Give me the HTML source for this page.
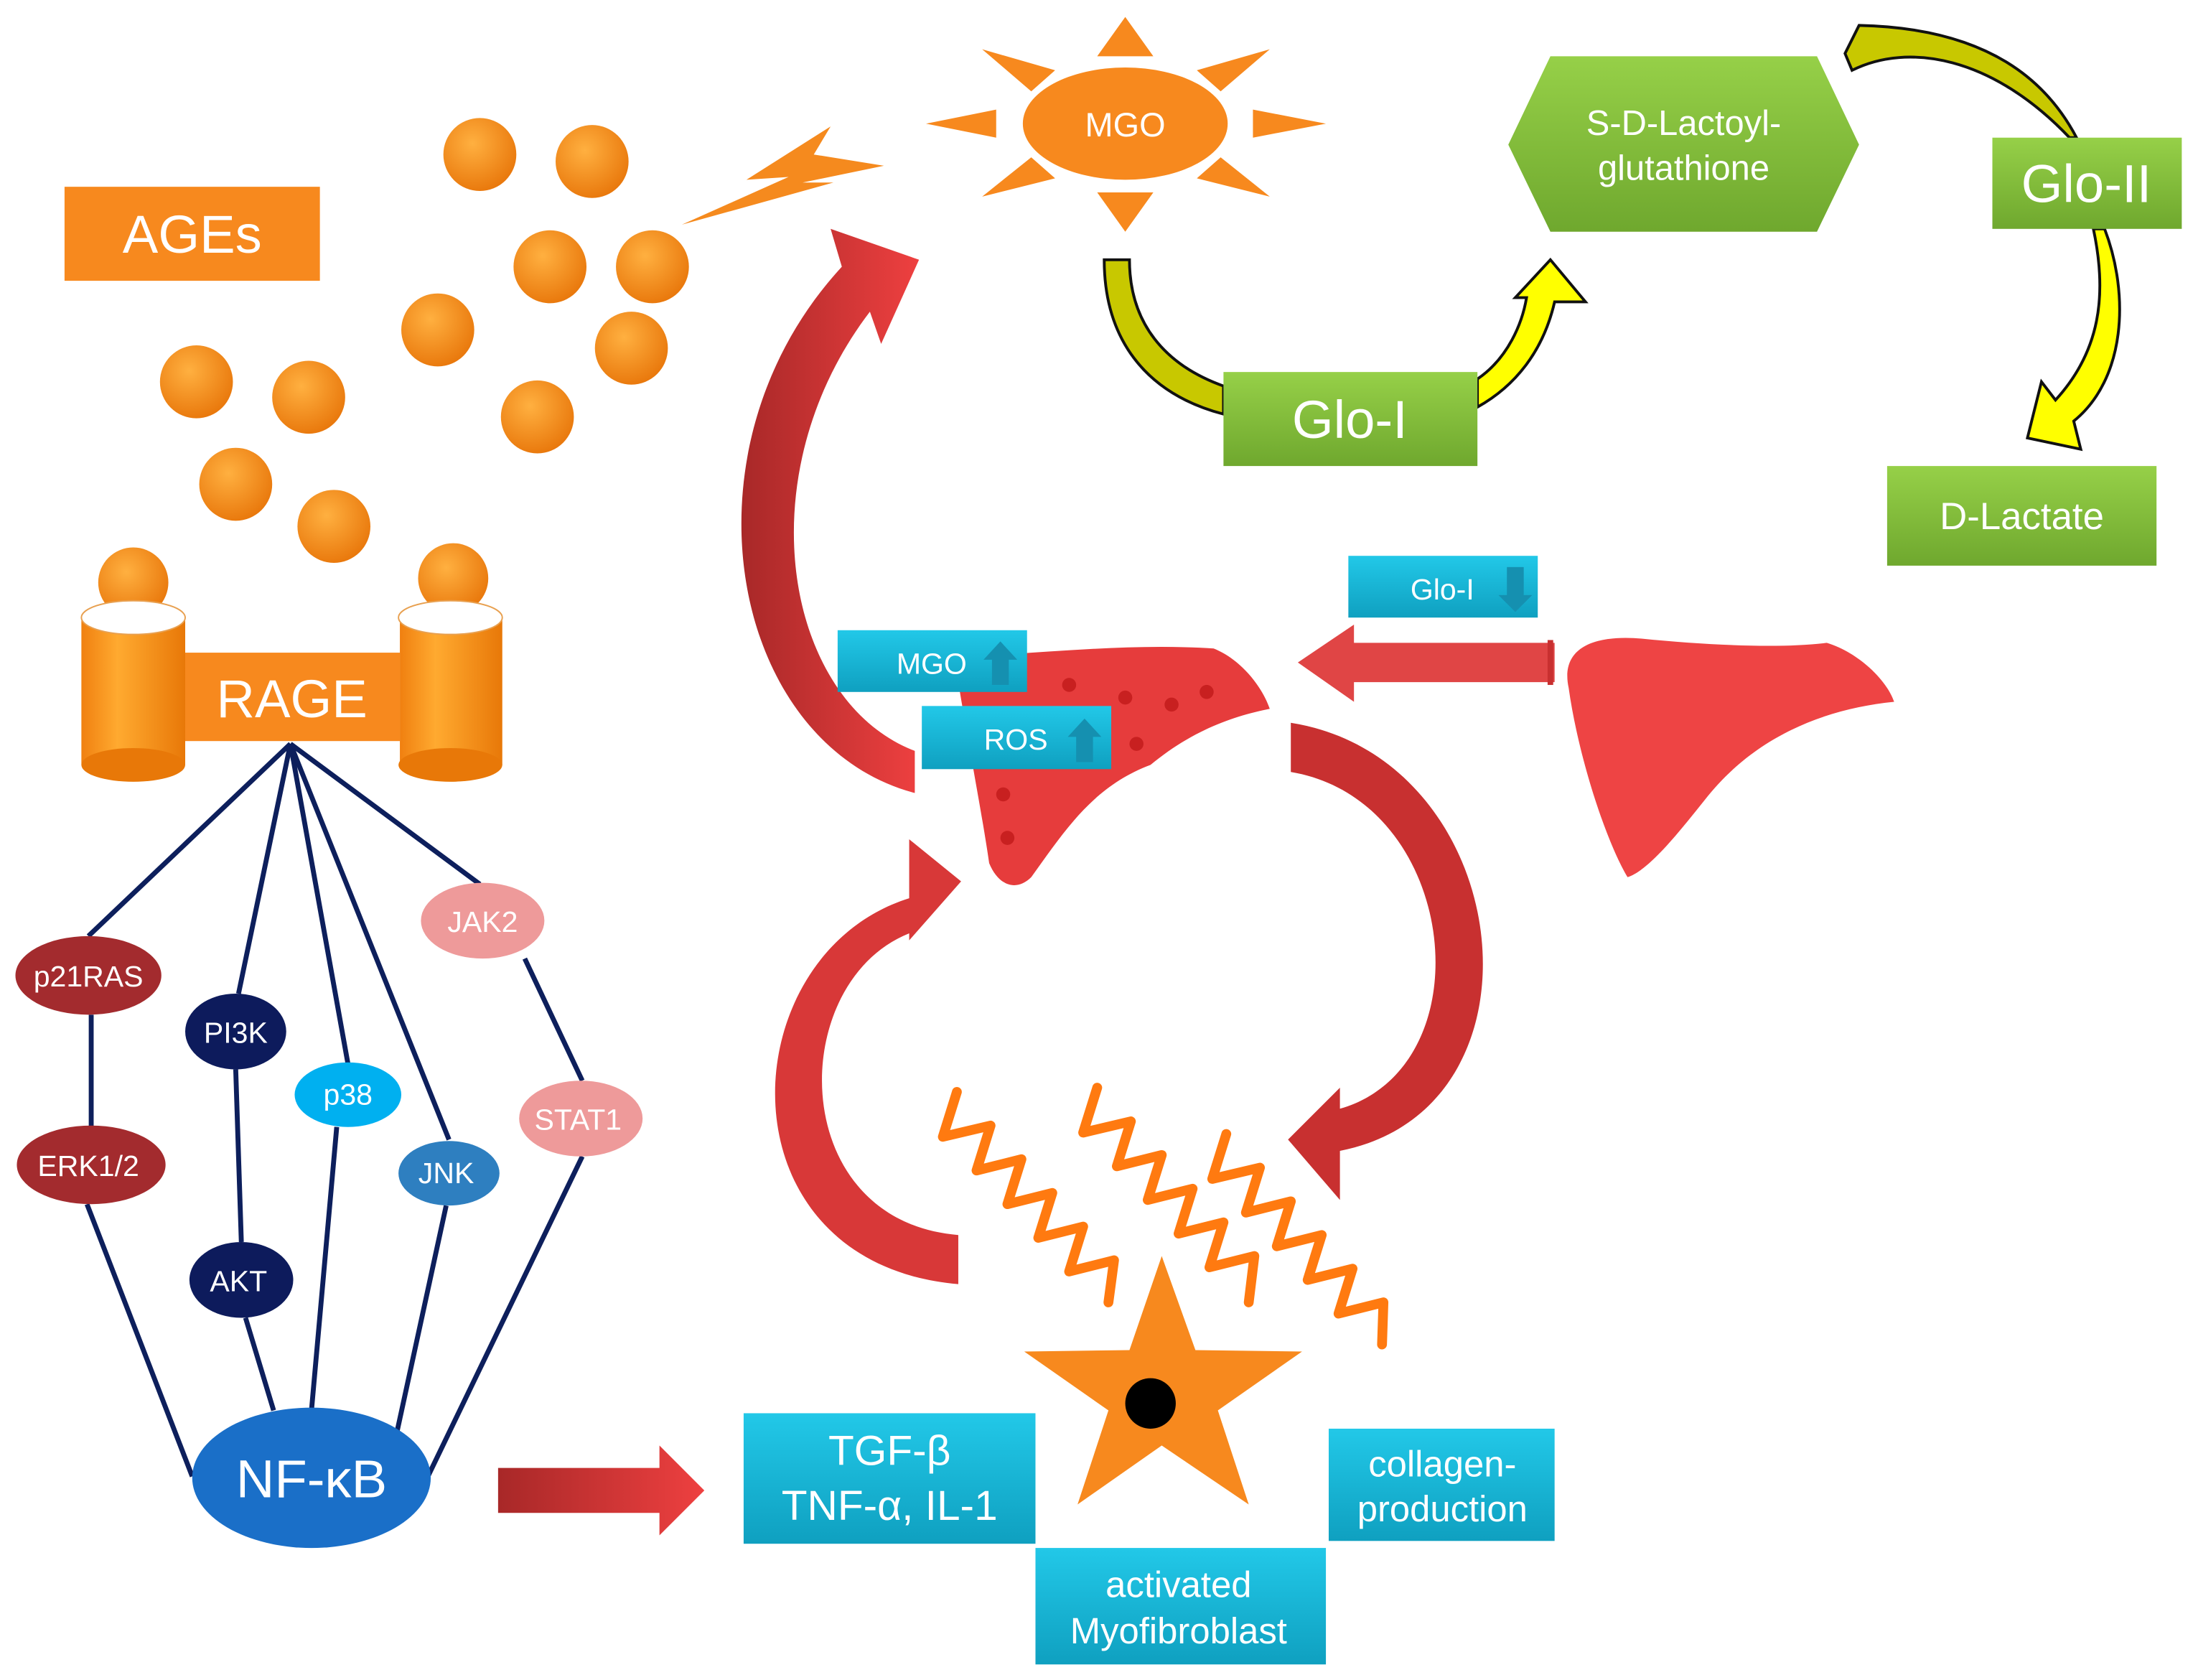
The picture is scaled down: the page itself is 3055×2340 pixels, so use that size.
<!DOCTYPE html>
<html><head><meta charset="utf-8"><style>html,body{margin:0;padding:0;background:#fff}svg{display:block}text{font-family:"Liberation Sans",sans-serif;fill:#fff}</style></head>
<body>
<svg width="3055" height="2340" viewBox="0 0 1563 1197" xmlns="http://www.w3.org/2000/svg">
<defs>
<radialGradient id="ball" cx="0.4" cy="0.35" r="0.7"><stop offset="0" stop-color="#FFB040"/><stop offset="1" stop-color="#E8760A"/></radialGradient>
<linearGradient id="cyl" x1="0" x2="1"><stop offset="0" stop-color="#F08010"/><stop offset="0.35" stop-color="#FFAA30"/><stop offset="1" stop-color="#E87808"/></linearGradient>
<linearGradient id="grn" x1="0" y1="0" x2="0" y2="1"><stop offset="0" stop-color="#96D048"/><stop offset="1" stop-color="#6FA82E"/></linearGradient>
<linearGradient id="cy" x1="0" y1="0" x2="0" y2="1"><stop offset="0" stop-color="#22C8E8"/><stop offset="1" stop-color="#0FA0C0"/></linearGradient>
<linearGradient id="red" x1="0" x2="1"><stop offset="0" stop-color="#A82828"/><stop offset="1" stop-color="#EE4040"/></linearGradient>
</defs>

<rect x="46" y="133" width="182" height="67" fill="#F7891E"/>
<text x="137" y="180" font-size="38" text-anchor="middle">AGEs</text>

<g fill="url(#ball)">
<circle cx="342" cy="110" r="26"/><circle cx="422" cy="115" r="26"/><circle cx="392" cy="190" r="26"/><circle cx="465" cy="190" r="26"/>
<circle cx="312" cy="235" r="26"/><circle cx="450" cy="248" r="26"/><circle cx="140" cy="272" r="26"/><circle cx="220" cy="283" r="26"/>
<circle cx="383" cy="297" r="26"/><circle cx="168" cy="345" r="26"/><circle cx="238" cy="375" r="26"/><circle cx="95" cy="415" r="25"/><circle cx="323" cy="412" r="25"/>
</g>

<polygon points="486,160 562,126 532,128 592,90 580,110 630,118 572,130 594,130" fill="#F58A1E"/>

<rect x="58" y="440" width="74" height="105" fill="url(#cyl)"/>
<ellipse cx="95" cy="545" rx="37" ry="12" fill="#E87808"/>
<ellipse cx="95" cy="440" rx="37" ry="12" fill="#fff" stroke="#E8A050" stroke-width="1"/>
<rect x="285" y="440" width="73" height="105" fill="url(#cyl)"/>
<ellipse cx="321" cy="545" rx="37" ry="12" fill="#E87808"/>
<ellipse cx="321" cy="440" rx="37" ry="12" fill="#fff" stroke="#E8A050" stroke-width="1"/>
<rect x="132" y="465" width="153" height="63" fill="#F7891E"/>
<text x="208" y="511" font-size="38" text-anchor="middle">RAGE</text>

<g stroke="#0D1F5C" stroke-width="3.5" fill="none">
<line x1="207" y1="530" x2="63" y2="667"/><line x1="207" y1="530" x2="170" y2="708"/>
<line x1="207" y1="530" x2="248" y2="758"/><line x1="207" y1="530" x2="320" y2="812"/>
<line x1="207" y1="530" x2="342" y2="630"/>
<line x1="65" y1="723" x2="65" y2="803"/><line x1="168" y1="762" x2="172" y2="885"/>
<line x1="62" y1="858" x2="137" y2="1052"/><line x1="175" y1="939" x2="195" y2="1005"/>
<line x1="240" y1="803" x2="222" y2="1005"/><line x1="318" y1="859" x2="283" y2="1020"/>
<line x1="374" y1="683" x2="415" y2="770"/><line x1="415" y1="824" x2="305" y2="1052"/>
</g>
<ellipse cx="63" cy="695" rx="52" ry="28" fill="#A32B2E"/><text x="63" y="703" font-size="21" text-anchor="middle">p21RAS</text>
<ellipse cx="65" cy="830" rx="53" ry="28" fill="#A32B2E"/><text x="63" y="838" font-size="21" text-anchor="middle">ERK1/2</text>
<ellipse cx="168" cy="735" rx="36" ry="27" fill="#0D1B5C"/><text x="168" y="743" font-size="21" text-anchor="middle">PI3K</text>
<ellipse cx="172" cy="912" rx="37" ry="27" fill="#0D1B5C"/><text x="170" y="920" font-size="21" text-anchor="middle">AKT</text>
<ellipse cx="248" cy="780" rx="38" ry="23" fill="#00B0F0"/><text x="248" y="787" font-size="21" text-anchor="middle">p38</text>
<ellipse cx="320" cy="836" rx="36" ry="23" fill="#2E7FC0"/><text x="318" y="843" font-size="21" text-anchor="middle">JNK</text>
<ellipse cx="344" cy="656" rx="44" ry="27" fill="#EE9A9A"/><text x="344" y="664" font-size="21" text-anchor="middle">JAK2</text>
<ellipse cx="414" cy="797" rx="44" ry="27" fill="#EE9A9A"/><text x="412" y="805" font-size="21" text-anchor="middle">STAT1</text>
<ellipse cx="222" cy="1053" rx="85" ry="50" fill="#1A6FC8"/><text x="222" y="1067" font-size="38" text-anchor="middle">NF-κB</text>

<polygon points="355,1046 470,1046 470,1030 502,1062 470,1094 470,1078 355,1078" fill="url(#red)"/>

<!-- red big curved arrows -->
<path d="M652,565 C520,530 480,320 600,190 L592,163 L655,185 L628,245 L620,222 C530,340 560,500 652,535 Z" fill="url(#red)"/>
<path d="M920,515 C1080,540 1110,790 955,820 L955,855 L918,812 L955,775 L955,790 C1060,760 1040,570 920,550 Z" fill="#C83030"/>
<path d="M648,640 C520,680 510,900 683,915 L683,880 C560,870 560,700 648,665 L648,670 L685,628 L648,598 Z" fill="#D83838"/>

<!-- liver 1 -->
<path d="M680,468 C740,466 800,458 865,462 C885,470 900,490 905,505 C880,510 850,520 820,545 C780,560 760,590 735,625 C725,635 712,632 705,615 C700,580 690,530 680,468 Z" fill="#E63C3C"/>
<g fill="#C82020"><circle cx="762" cy="488" r="5"/><circle cx="802" cy="497" r="5"/><circle cx="835" cy="502" r="5"/><circle cx="860" cy="493" r="5"/><circle cx="810" cy="530" r="5"/><circle cx="715" cy="566" r="5"/><circle cx="718" cy="597" r="5"/></g>
<!-- liver 2 -->
<path d="M1118,490 C1112,462 1135,452 1170,455 C1220,460 1270,462 1302,458 C1325,465 1345,485 1350,500 C1300,505 1250,525 1215,570 C1195,595 1175,620 1160,625 C1145,600 1125,540 1118,490 Z" fill="#EE4444"/>
<polygon points="1108,458 965,458 965,445 925,472 965,500 965,486 1108,486" fill="#E04545"/>
<rect x="1103" y="456" width="4" height="32" fill="#C83030"/>

<rect x="961" y="396" width="135" height="44" fill="url(#cy)"/><text x="1028" y="427" font-size="21" text-anchor="middle">Glo-I</text>
<polygon points="1074,404 1086,404 1086,424 1092,424 1080,436 1068,424 1074,424" fill="#1590B0"/>
<rect x="597" y="449" width="135" height="44" fill="url(#cy)"/><text x="664" y="480" font-size="21" text-anchor="middle">MGO</text>
<polygon points="707,488 719,488 719,470 725,470 713,457 701,470 707,470" fill="#1590B0"/>
<rect x="657" y="503" width="135" height="45" fill="url(#cy)"/><text x="724" y="534" font-size="21" text-anchor="middle">ROS</text>
<polygon points="767,543 779,543 779,525 785,525 773,512 761,525 767,525" fill="#1590B0"/>

<g stroke="#FF7A10" stroke-width="7" fill="none" stroke-linejoin="round" stroke-linecap="round">
<polyline points="682,778 672,810 706,802 696,834 728,826 718,858 750,850 740,882 772,874 762,906 794,898 790,928"/>
<polyline points="782,775 772,807 806,799 796,831 828,823 818,855 850,847 840,879 872,871 862,903 894,895 890,928"/>
<polyline points="874,808 864,840 898,832 888,864 920,856 910,888 942,880 932,912 964,904 954,936 986,928 985,958"/>
</g>

<polygon points="828,895 852,962 928,963 868,1005 890,1072 828,1030 768,1072 790,1005 730,963 805,962" fill="#F7891E"/>
<circle cx="820" cy="1000" r="18" fill="#000"/>

<rect x="530" y="1007" width="208" height="93" fill="url(#cy)"/>
<text x="634" y="1044" font-size="30" text-anchor="middle">TGF-β</text>
<text x="634" y="1083" font-size="30" text-anchor="middle">TNF-α, IL-1</text>
<rect x="738" y="1103" width="207" height="83" fill="url(#cy)"/>
<text x="840" y="1138" font-size="26" text-anchor="middle">activated</text>
<text x="840" y="1171" font-size="26" text-anchor="middle">Myofibroblast</text>
<rect x="947" y="1018" width="161" height="80" fill="url(#cy)"/>
<text x="1028" y="1052" font-size="26" text-anchor="middle">collagen-</text>
<text x="1028" y="1084" font-size="26" text-anchor="middle">production</text>

<g fill="#F7891E">
<polygon points="802,12 822,40 782,40"/><polygon points="802,165 822,137 782,137"/>
<polygon points="660,88 710,78 710,98"/><polygon points="945,88 893,78 893,98"/>
<polygon points="700,35 752,50 735,65"/><polygon points="905,35 853,50 870,65"/>
<polygon points="700,140 735,112 752,127"/><polygon points="905,140 870,112 853,127"/>
</g>
<ellipse cx="802" cy="88" rx="73" ry="40" fill="#F7891E"/>
<text x="802" y="97" font-size="24" text-anchor="middle">MGO</text>

<g stroke="#111" stroke-width="2">
<path d="M787,185 L805,185 C805,230 830,260 872,275 L872,295 C815,280 787,240 787,185 Z" fill="#C8C800"/>
<path d="M1053,270 C1075,255 1085,230 1088,212 L1080,212 L1105,185 L1130,215 L1108,215 C1100,250 1080,275 1053,290 Z" fill="#FFFF00"/>
<path d="M1480,98 C1460,60 1420,20 1325,18 L1315,38 L1320,50 C1360,30 1420,40 1475,98 Z" fill="#C8C800"/>
<path d="M1500,163 C1518,210 1515,270 1478,300 L1483,320 L1445,312 L1455,272 L1465,285 C1497,250 1502,210 1492,163 Z" fill="#FFFF00"/>
</g>

<polygon points="1105,40 1295,40 1325,103 1295,165 1105,165 1075,103" fill="url(#grn)"/>
<text x="1200" y="96" font-size="25" text-anchor="middle">S-D-Lactoyl-</text>
<text x="1200" y="128" font-size="25" text-anchor="middle">glutathione</text>
<rect x="872" y="265" width="181" height="67" fill="url(#grn)"/>
<text x="962" y="312" font-size="38" text-anchor="middle">Glo-I</text>
<rect x="1420" y="98" width="135" height="65" fill="url(#grn)"/>
<text x="1487" y="144" font-size="38" text-anchor="middle">Glo-II</text>
<rect x="1345" y="332" width="192" height="71" fill="url(#grn)"/>
<text x="1441" y="377" font-size="27" text-anchor="middle">D-Lactate</text>
</svg>
</body></html>
